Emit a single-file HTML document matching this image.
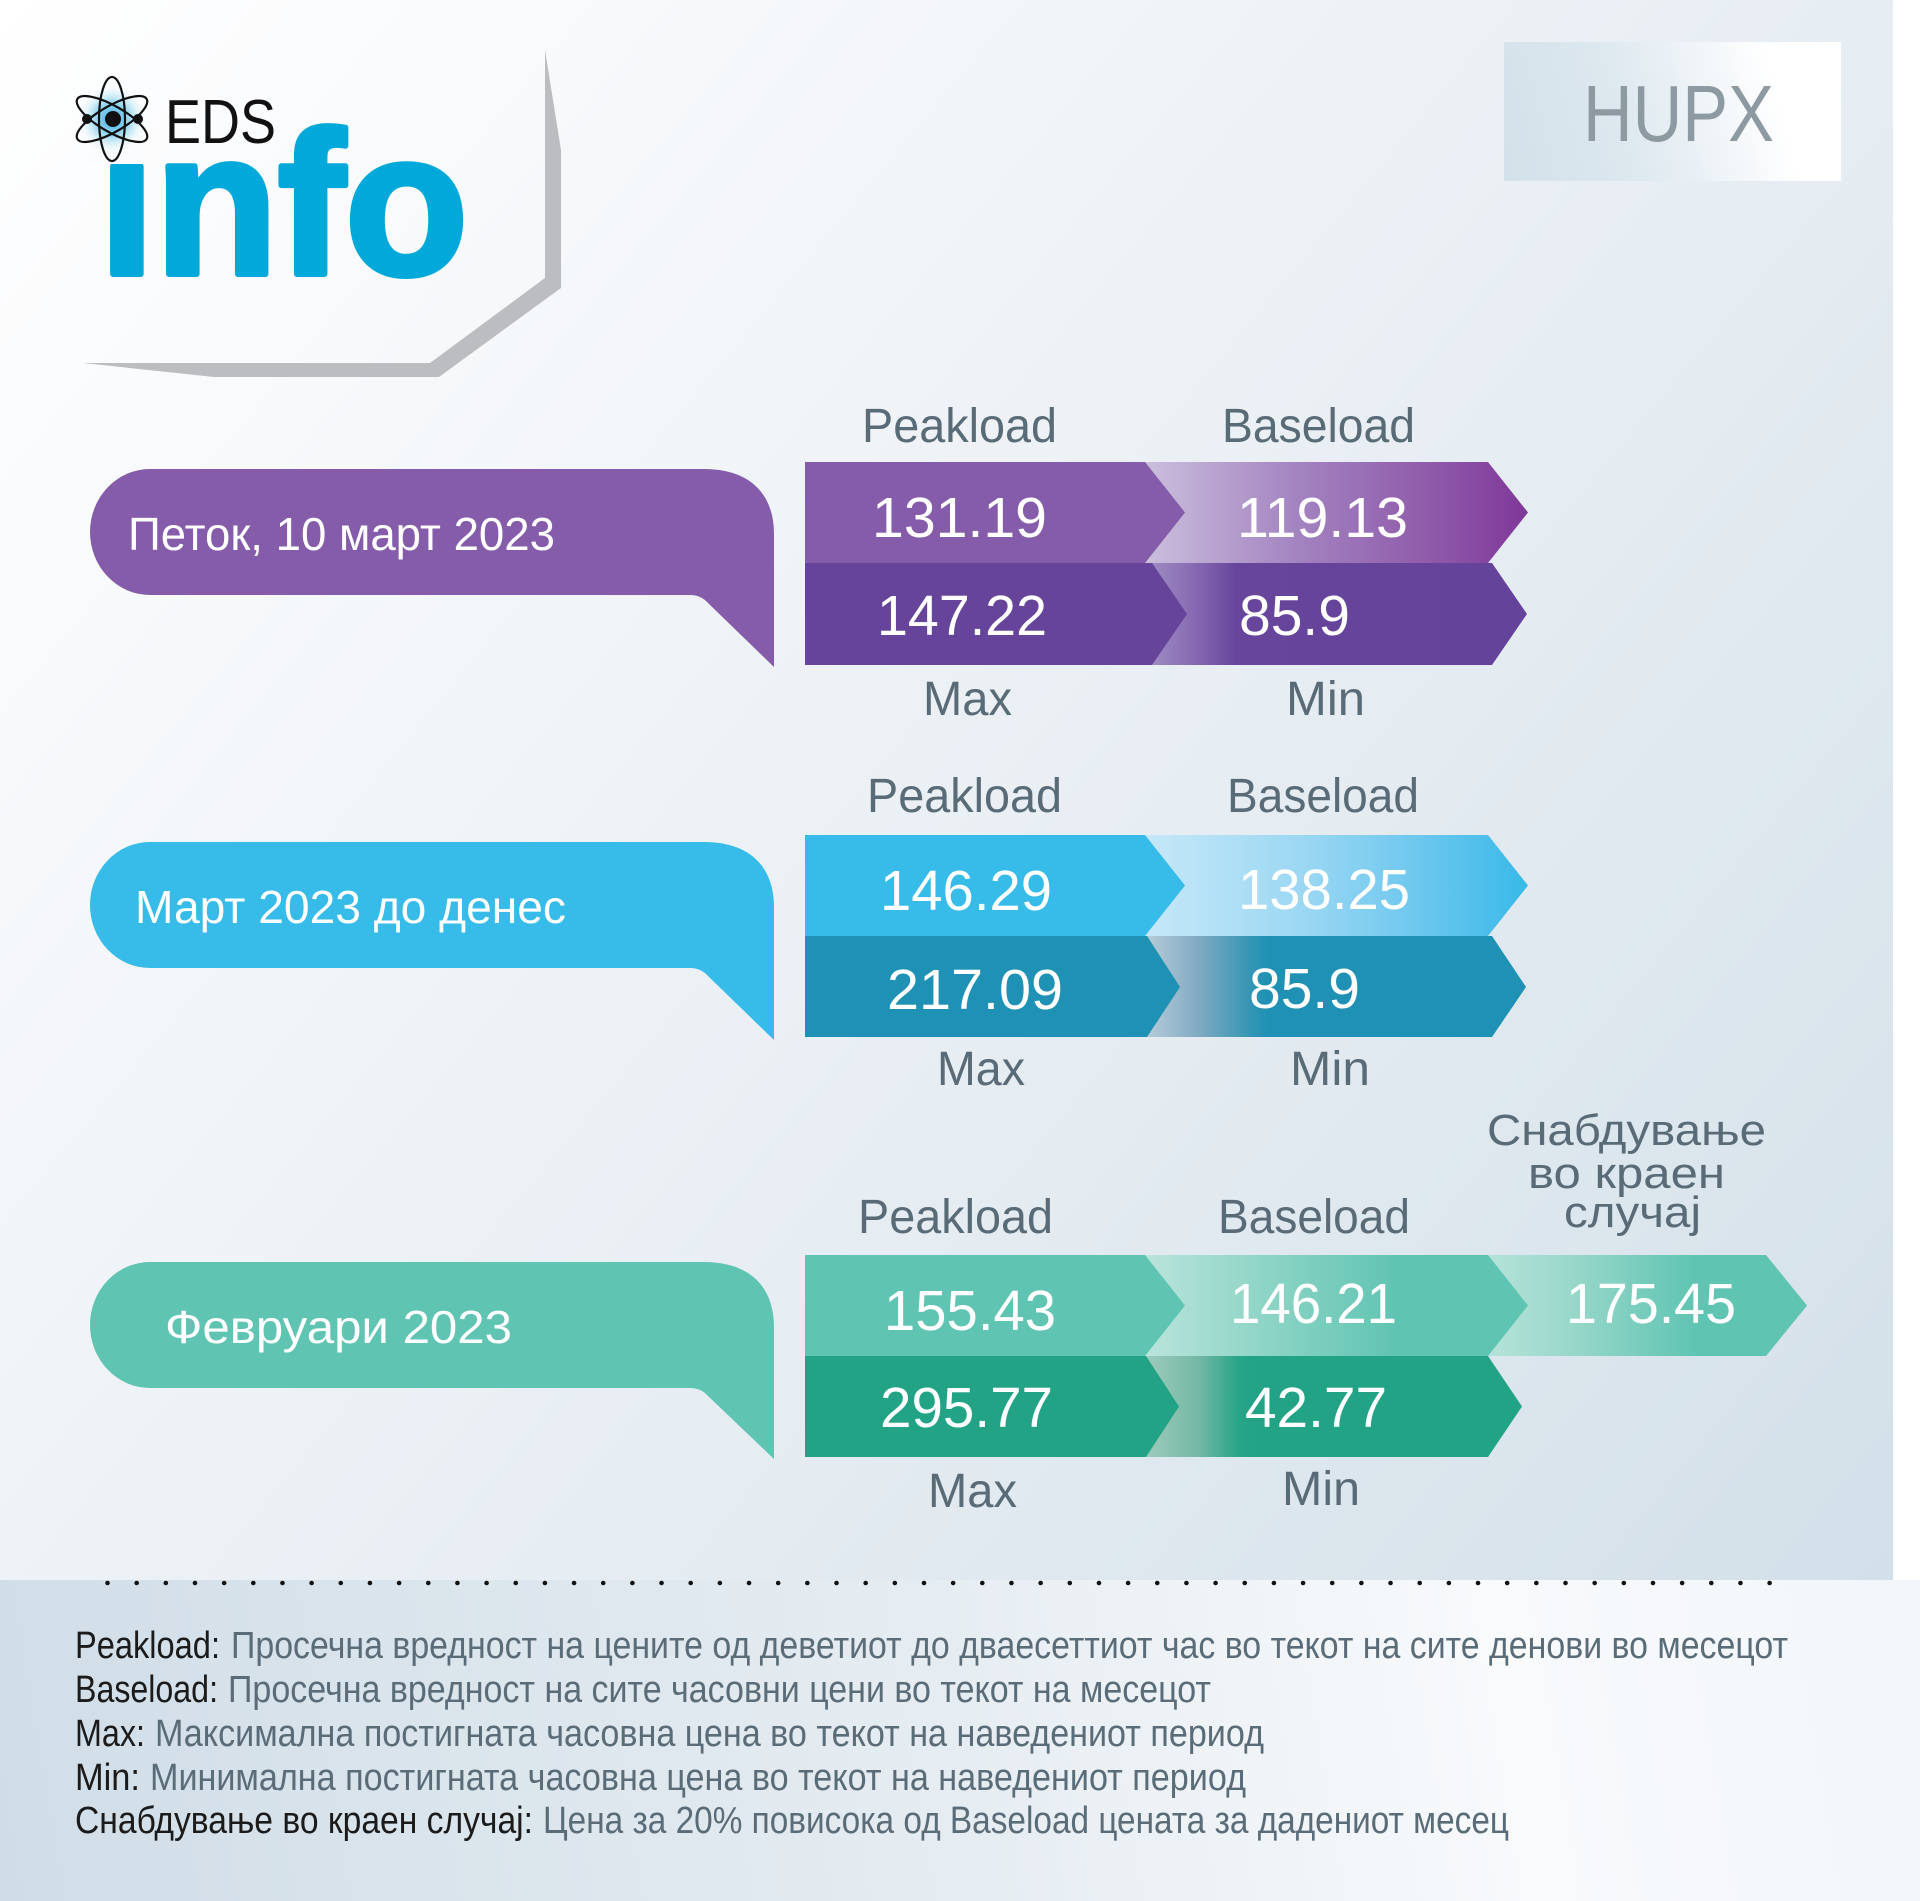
<!DOCTYPE html>
<html>
<head>
<meta charset="utf-8">
<style>
  html,body{margin:0;padding:0;background:#ffffff;}
  body{width:1920px;height:1901px;overflow:hidden;}
  svg{display:block;}
  text{font-family:"Liberation Sans","Noto Sans CJK SC",sans-serif;}
</style>
</head>
<body>
<svg width="1920" height="1901" viewBox="0 0 1920 1901" xmlns="http://www.w3.org/2000/svg">
  <defs>
    <linearGradient id="panel" gradientUnits="userSpaceOnUse" x1="0" y1="0" x2="1893" y2="1580">
      <stop offset="0" stop-color="#ffffff"/>
      <stop offset="0.4" stop-color="#eff3f7"/>
      <stop offset="1" stop-color="#d3e0e9"/>
    </linearGradient>
    <linearGradient id="foot" gradientUnits="userSpaceOnUse" x1="0" y1="1901" x2="1920" y2="1580">
      <stop offset="0" stop-color="#d0dde7"/>
      <stop offset="0.5" stop-color="#e6edf2"/>
      <stop offset="0.78" stop-color="#f8fafc"/>
      <stop offset="1" stop-color="#f2f6f9"/>
    </linearGradient>
    <linearGradient id="hupx" gradientUnits="userSpaceOnUse" x1="1504" y1="150" x2="1841" y2="60">
      <stop offset="0" stop-color="#d3e1ea"/>
      <stop offset="0.35" stop-color="#dde8ef"/>
      <stop offset="0.8" stop-color="#ffffff"/>
      <stop offset="1" stop-color="#ffffff"/>
    </linearGradient>
    <radialGradient id="glow" cx="0.5" cy="0.5" r="0.5">
      <stop offset="0" stop-color="#2fb0e4"/>
      <stop offset="0.5" stop-color="#8fd3f0" stop-opacity="0.8"/>
      <stop offset="1" stop-color="#ffffff" stop-opacity="0"/>
    </radialGradient>
    <linearGradient id="r1t" gradientUnits="userSpaceOnUse" x1="1145" y1="0" x2="1528" y2="0">
      <stop offset="0" stop-color="#cbbfdd"/>
      <stop offset="0.4" stop-color="#a383c0"/>
      <stop offset="0.78" stop-color="#8d56a8"/>
      <stop offset="1" stop-color="#7f3799"/>
    </linearGradient>
    <linearGradient id="r1b" gradientUnits="userSpaceOnUse" x1="1145" y1="0" x2="1528" y2="0">
      <stop offset="0" stop-color="#a390c6"/>
      <stop offset="0.14" stop-color="#8366b0"/>
      <stop offset="0.24" stop-color="#66459b"/>
      <stop offset="1" stop-color="#64439a"/>
    </linearGradient>
    <linearGradient id="r2t" gradientUnits="userSpaceOnUse" x1="1145" y1="0" x2="1528" y2="0">
      <stop offset="0" stop-color="#c6e8f8"/>
      <stop offset="0.4" stop-color="#9dd8f3"/>
      <stop offset="0.72" stop-color="#6cc7ee"/>
      <stop offset="1" stop-color="#38b9e8"/>
    </linearGradient>
    <linearGradient id="r2b" gradientUnits="userSpaceOnUse" x1="1145" y1="0" x2="1528" y2="0">
      <stop offset="0" stop-color="#b8ccd9"/>
      <stop offset="0.14" stop-color="#80aac2"/>
      <stop offset="0.27" stop-color="#3796b5"/>
      <stop offset="0.32" stop-color="#1f91b4"/>
      <stop offset="1" stop-color="#1f91b4"/>
    </linearGradient>
    <linearGradient id="r3t" gradientUnits="userSpaceOnUse" x1="1145" y1="0" x2="1528" y2="0">
      <stop offset="0" stop-color="#bae4db"/>
      <stop offset="0.4" stop-color="#82d0c1"/>
      <stop offset="0.66" stop-color="#60c4b2"/>
      <stop offset="1" stop-color="#5fc4b2"/>
    </linearGradient>
    <linearGradient id="r3b" gradientUnits="userSpaceOnUse" x1="1145" y1="0" x2="1528" y2="0">
      <stop offset="0" stop-color="#9ecbbd"/>
      <stop offset="0.14" stop-color="#74b8a5"/>
      <stop offset="0.24" stop-color="#2aa588"/>
      <stop offset="0.28" stop-color="#22a386"/>
      <stop offset="1" stop-color="#22a386"/>
    </linearGradient>
    <linearGradient id="r3x" gradientUnits="userSpaceOnUse" x1="1488" y1="0" x2="1807" y2="0">
      <stop offset="0" stop-color="#b6e3d9"/>
      <stop offset="0.25" stop-color="#9ad8cb"/>
      <stop offset="0.65" stop-color="#60c4b2"/>
      <stop offset="1" stop-color="#5fc4b2"/>
    </linearGradient>
  </defs>

  <rect x="0" y="0" width="1920" height="1901" fill="#ffffff"/>
  <rect x="0" y="0" width="1893" height="1580" fill="url(#panel)"/>
  <rect x="0" y="1580" width="1920" height="321" fill="url(#foot)"/>

  <rect x="1504" y="42" width="337" height="139" fill="url(#hupx)"/>
  <text x="1583" y="141" font-size="80" fill="#8e9aa1" textLength="191" lengthAdjust="spacingAndGlyphs">HUPX</text>

  <polygon points="545,50 561,150 561,288 439,377 214,377 83,363 430,363 545,278" fill="#bbbdc0"/>

  <text x="99" y="274" font-size="204" font-weight="bold" fill="#00a9d9" stroke="#00a9d9" stroke-width="6" stroke-linejoin="round" textLength="369" lengthAdjust="spacingAndGlyphs">info</text>
  <rect x="88" y="104" width="56" height="60" fill="#fbfcfd"/>
  <circle cx="112" cy="119" r="36" fill="url(#glow)"/>
  <g fill="none" stroke="#111" stroke-width="2.2">
    <ellipse cx="112" cy="119" rx="13" ry="42"/>
    <ellipse cx="112" cy="119" rx="13" ry="40" transform="rotate(60 112 119)"/>
    <ellipse cx="112" cy="119" rx="13" ry="40" transform="rotate(-60 112 119)"/>
  </g>
  <circle cx="113" cy="119" r="8" fill="#111"/>
  <circle cx="87" cy="119" r="5" fill="#111"/>
  <circle cx="138" cy="119" r="5" fill="#111"/>
  <text x="165" y="143" font-size="62" fill="#111" textLength="111" lengthAdjust="spacingAndGlyphs">EDS</text>

  <!-- ROW 1 -->
  <path d="M150,469 L704,469 C752,469 774,496 774,534 L774,667 L708,603 Q701,595 690,595 L150,595 A60,63 0 0 1 150,469 Z" fill="#845caa"/>
  <text x="128" y="550" font-size="46" fill="#ffffff" textLength="427" lengthAdjust="spacingAndGlyphs">Петок, 10 март 2023</text>

  <text x="862" y="442" font-size="48" fill="#5a6b78" textLength="195" lengthAdjust="spacingAndGlyphs">Peakload</text>
  <text x="1222" y="442" font-size="48" fill="#5a6b78" textLength="193" lengthAdjust="spacingAndGlyphs">Baseload</text>

  <path d="M1140,462 L1488,462 L1528,512.5 L1488,563 L1140,563 Z" fill="url(#r1t)"/>
  <path d="M1140,563 L1492,563 L1527,614 L1492,665 L1140,665 Z" fill="url(#r1b)"/>
  <path d="M805,462 L1145,462 L1185,512.5 L1145,563 L805,563 Z" fill="#845caa"/>
  <path d="M805,563 L1152,563 L1187,614 L1152,665 L805,665 Z" fill="#654499"/>

  <text x="872" y="537" font-size="57" fill="#ffffff" textLength="175" lengthAdjust="spacingAndGlyphs">131.19</text>
  <text x="1237" y="537" font-size="57" fill="#ffffff" textLength="171" lengthAdjust="spacingAndGlyphs">119.13</text>
  <text x="877" y="635" font-size="57" fill="#ffffff" textLength="170" lengthAdjust="spacingAndGlyphs">147.22</text>
  <text x="1239" y="635" font-size="57" fill="#ffffff" textLength="111" lengthAdjust="spacingAndGlyphs">85.9</text>

  <text x="923" y="715" font-size="48" fill="#5a6b78" textLength="89" lengthAdjust="spacingAndGlyphs">Max</text>
  <text x="1286" y="715" font-size="48" fill="#5a6b78" textLength="79" lengthAdjust="spacingAndGlyphs">Min</text>

  <!-- ROW 2 -->
  <path d="M150,842 L704,842 C752,842 774,869 774,907 L774,1040 L708,976 Q701,968 690,968 L150,968 A60,63 0 0 1 150,842 Z" fill="#37bbe9"/>
  <text x="135" y="923" font-size="46" fill="#ffffff" textLength="431" lengthAdjust="spacingAndGlyphs">Март 2023 до денес</text>

  <text x="867" y="812" font-size="48" fill="#5a6b78" textLength="195" lengthAdjust="spacingAndGlyphs">Peakload</text>
  <text x="1227" y="812" font-size="48" fill="#5a6b78" textLength="192" lengthAdjust="spacingAndGlyphs">Baseload</text>

  <path d="M1140,835 L1488,835 L1528,885.5 L1488,936 L1140,936 Z" fill="url(#r2t)"/>
  <path d="M1140,936 L1492,936 L1526,987 L1492,1037 L1140,1037 Z" fill="url(#r2b)"/>
  <path d="M805,835 L1145,835 L1185,885.5 L1145,936 L805,936 Z" fill="#37bbe9"/>
  <path d="M805,936 L1147,936 L1180,987 L1147,1037 L805,1037 Z" fill="#1f91b4"/>

  <text x="880" y="910" font-size="57" fill="#ffffff" textLength="172" lengthAdjust="spacingAndGlyphs">146.29</text>
  <text x="1238" y="909" font-size="57" fill="#ffffff" textLength="172" lengthAdjust="spacingAndGlyphs">138.25</text>
  <text x="887" y="1009" font-size="57" fill="#ffffff" textLength="176" lengthAdjust="spacingAndGlyphs">217.09</text>
  <text x="1249" y="1008" font-size="57" fill="#ffffff" textLength="111" lengthAdjust="spacingAndGlyphs">85.9</text>

  <text x="937" y="1085" font-size="48" fill="#5a6b78" textLength="88" lengthAdjust="spacingAndGlyphs">Max</text>
  <text x="1290" y="1085" font-size="48" fill="#5a6b78" textLength="80" lengthAdjust="spacingAndGlyphs">Min</text>

  <!-- ROW 3 -->
  <path d="M150,1262 L704,1262 C752,1262 774,1289 774,1327 L774,1459 L708,1396 Q701,1388 690,1388 L150,1388 A60,63 0 0 1 150,1262 Z" fill="#60c4b3"/>
  <text x="165" y="1343" font-size="46" fill="#ffffff" textLength="347" lengthAdjust="spacingAndGlyphs">Февруари 2023</text>

  <text x="858" y="1233" font-size="48" fill="#5a6b78" textLength="195" lengthAdjust="spacingAndGlyphs">Peakload</text>
  <text x="1218" y="1233" font-size="48" fill="#5a6b78" textLength="192" lengthAdjust="spacingAndGlyphs">Baseload</text>

  <text x="1487" y="1145" font-size="44" fill="#5a6b78" textLength="279" lengthAdjust="spacingAndGlyphs">Снабдување</text>
  <text x="1528" y="1188" font-size="44" fill="#5a6b78" textLength="197" lengthAdjust="spacingAndGlyphs">во краен</text>
  <text x="1564" y="1227" font-size="44" fill="#5a6b78" textLength="137" lengthAdjust="spacingAndGlyphs">случај</text>

  <path d="M1480,1255 L1766,1255 L1807,1305.5 L1766,1356 L1480,1356 Z" fill="url(#r3x)"/>
  <path d="M1140,1255 L1488,1255 L1528,1305.5 L1488,1356 L1140,1356 Z" fill="url(#r3t)"/>
  <path d="M1140,1356 L1488,1356 L1522,1406.5 L1488,1457 L1140,1457 Z" fill="url(#r3b)"/>
  <path d="M805,1255 L1145,1255 L1185,1305.5 L1145,1356 L805,1356 Z" fill="#60c4b3"/>
  <path d="M805,1356 L1146,1356 L1179,1406.5 L1146,1457 L805,1457 Z" fill="#22a386"/>

  <text x="884" y="1330" font-size="57" fill="#ffffff" textLength="172" lengthAdjust="spacingAndGlyphs">155.43</text>
  <text x="1230" y="1323" font-size="57" fill="#ffffff" textLength="167" lengthAdjust="spacingAndGlyphs">146.21</text>
  <text x="1566" y="1323" font-size="57" fill="#ffffff" textLength="170" lengthAdjust="spacingAndGlyphs">175.45</text>
  <text x="880" y="1427" font-size="57" fill="#ffffff" textLength="173" lengthAdjust="spacingAndGlyphs">295.77</text>
  <text x="1245" y="1427" font-size="57" fill="#ffffff" textLength="142" lengthAdjust="spacingAndGlyphs">42.77</text>

  <text x="928" y="1507" font-size="48" fill="#5a6b78" textLength="89" lengthAdjust="spacingAndGlyphs">Max</text>
  <text x="1282" y="1505" font-size="48" fill="#5a6b78" textLength="78" lengthAdjust="spacingAndGlyphs">Min</text>

  <!-- dotted separator -->
  <line x1="107.5" y1="1583" x2="1775" y2="1583" stroke="#111" stroke-width="4.6" stroke-linecap="round" stroke-dasharray="0.01 29.15"/>

  <!-- footer legend -->
  <text x="75" y="1658" font-size="38" fill="#1b1b1b" textLength="145" lengthAdjust="spacingAndGlyphs">Peakload:</text>
  <text x="231" y="1658" font-size="38" fill="#5b6c79" textLength="1557" lengthAdjust="spacingAndGlyphs">Просечна вредност на цените од деветиот до дваесеттиот час во текот на сите денови во месецот</text>

  <text x="75" y="1702" font-size="38" fill="#1b1b1b" textLength="143" lengthAdjust="spacingAndGlyphs">Baseload:</text>
  <text x="228" y="1702" font-size="38" fill="#5b6c79" textLength="983" lengthAdjust="spacingAndGlyphs">Просечна вредност на сите часовни цени во текот на месецот</text>

  <text x="75" y="1746" font-size="38" fill="#1b1b1b" textLength="70" lengthAdjust="spacingAndGlyphs">Max:</text>
  <text x="155" y="1746" font-size="38" fill="#5b6c79" textLength="1109" lengthAdjust="spacingAndGlyphs">Максимална постигната часовна цена во текот на наведениот период</text>

  <text x="75" y="1790" font-size="38" fill="#1b1b1b" textLength="65" lengthAdjust="spacingAndGlyphs">Min:</text>
  <text x="150" y="1790" font-size="38" fill="#5b6c79" textLength="1096" lengthAdjust="spacingAndGlyphs">Минимална постигната часовна цена во текот на наведениот период</text>

  <text x="75" y="1833" font-size="38" fill="#1b1b1b" textLength="458" lengthAdjust="spacingAndGlyphs">Снабдување во краен случај:</text>
  <text x="543" y="1833" font-size="38" fill="#5b6c79" textLength="966" lengthAdjust="spacingAndGlyphs">Цена за 20% повисока од Baseload цената за дадениот месец</text>
</svg>
</body>
</html>
